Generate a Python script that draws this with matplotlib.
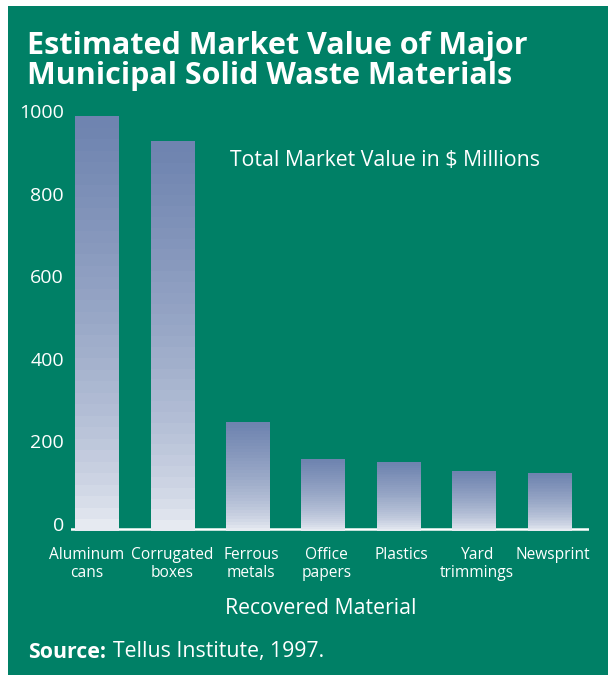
import numpy as np
import matplotlib.pyplot as plt
import matplotlib.transforms as mtransforms
from matplotlib.colors import LinearSegmentedColormap
from matplotlib.patches import Rectangle

# datos
materiales = ['Aluminum\ncans', 'Corrugated\nboxes', 'Ferrous\nmetals', 'Office\npapers',
              'Plastics', 'Yard\ntrimmings', 'Newsprint']
valores = [1000, 940, 258, 169, 160, 140, 135]
ticks_y = [0, 200, 400, 600, 800, 1000]

verde = '#008066'
azul = '#6F84B0'
plt.rcParams['font.family'] = ['Open Sans', 'DejaVu Sans']

fig = plt.figure(figsize=(6.08, 6.75), dpi=100, facecolor='white')
# panel verde detras de todo
fig.patches.append(Rectangle((8 / 608, 0), 1, 1 - 6 / 675, transform=fig.transFigure,
                             facecolor=verde, edgecolor='none', zorder=-10))

ax = fig.add_axes([71 / 608, 1 - 532 / 675, (589 - 71) / 608, (532 - 100) / 675])
ax.set_facecolor('none')

ancho = 0.58
x = np.arange(len(materiales))
# degradado de azul (arriba) a blanco (abajo), con bandas
cmap = LinearSegmentedColormap.from_list('grad', ['white', azul])
grad = np.linspace(0.04, 1, 36) ** 0.55
grad = grad.reshape(-1, 1)
for xi, v in zip(x, valores):
    ax.imshow(grad, cmap=cmap, aspect='auto', origin='lower', interpolation='nearest',
              extent=(xi - ancho / 2, xi + ancho / 2, -5, v), zorder=2, vmin=0, vmax=1)

ax.axhline(0, color='white', lw=1.8, zorder=1)
ax.set_xlim(-0.344, 6.52)
ax.set_ylim(-8, 1040)
ax.set_yticks(ticks_y)
ax.set_yticklabels([str(t) for t in ticks_y], color='white', fontsize=14)
ax.set_xticks(x)
ax.set_xticklabels(materiales, color='white', fontsize=11.2, linespacing=1.15)
ax.tick_params(axis='x', length=0, pad=11)
ax.tick_params(axis='y', length=0, pad=5)
for s in ax.spines.values():
    s.set_visible(False)

# pequenos desplazamientos de las etiquetas como en el original
sube = mtransforms.ScaledTranslation(0, 5 / 100, fig.dpi_scale_trans)
for lab in ax.get_yticklabels():
    lab.set_transform(lab.get_transform() + sube)
etiquetas_x = ax.get_xticklabels()
etiquetas_x[0].set_transform(etiquetas_x[0].get_transform() +
                             mtransforms.ScaledTranslation(-10 / 100, 0, fig.dpi_scale_trans))
for lab in etiquetas_x[2:]:
    lab.set_transform(lab.get_transform() +
                      mtransforms.ScaledTranslation(3 / 100, 0, fig.dpi_scale_trans))

fig.text(27 / 608, 1 - 61 / 675, 'Estimated Market Value of Major\nMunicipal Solid Waste Materials',
         color='white', fontsize=22, fontweight='bold', va='center', linespacing=1.0)
fig.text(230 / 608, 1 - 160 / 675, 'Total Market Value in $ Millions', color='white',
         fontsize=15.3, va='center')
fig.text(321 / 608, 1 - 609 / 675, 'Recovered Material', color='white', fontsize=15.3,
         ha='center', va='center')
fig.text(28 / 608, 1 - 652 / 675, 'Source:', color='white', fontsize=15.3,
         fontweight='bold', va='center')
fig.text(113 / 608, 1 - 652 / 675, 'Tellus Institute, 1997.', color='white', fontsize=15.3,
         va='center')

fig.savefig('out.png', dpi=100, facecolor='white')
